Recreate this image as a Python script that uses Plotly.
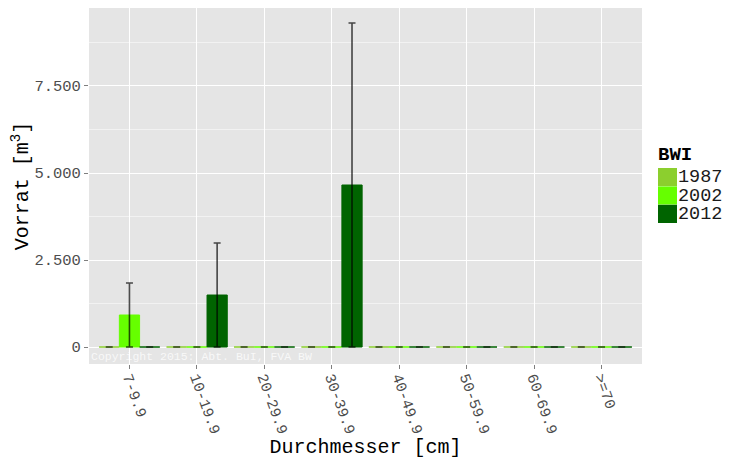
import plotly.graph_objects as go

categories = ["7-9.9", "10-19.9", "20-29.9", "30-39.9", "40-49.9", "50-59.9", "60-69.9", ">=70"]
years = ["1987", "2002", "2012"]
colors = {"1987": "#8CCF2E", "2002": "#66FF00", "2012": "#006400"}
values = {
    "1987": [0, 0, 0, 0, 0, 0, 0, 0],
    "2002": [920, 0, 0, 0, 0, 0, 0, 0],
    "2012": [0, 1494, 0, 4655, 0, 0, 0, 0],
}
errors = {
    "1987": [0, 0, 0, 0, 0, 0, 0, 0],
    "2002": [920, 0, 0, 0, 0, 0, 0, 0],
    "2012": [0, 1494, 0, 4655, 0, 0, 0, 0],
}
ytickvals = [0, 2500, 5000, 7500]
yticktext = ["0", "2.500", "5.000", "7.500"]

FONT = "Liberation Mono, Courier New, monospace"
OFF = 8  # page body margin
W, H = 732 - OFF, 459 - OFF
# panel edges in screen pixels
L, R, T, B = 89, 642, 8, 364


def px(x):
    return (x - L) / (R - L)


def py(y):
    return (B - y) / (B - T)


fig = go.Figure()
for y in years:
    fig.add_trace(go.Bar(
        x=categories, y=values[y], name=y, showlegend=False,
        marker=dict(color=colors[y], line=dict(color=colors[y], width=1)),
        error_y=dict(type="data", array=errors[y], visible=True,
                     color="rgba(0,0,0,0.7)", thickness=1.6, width=3.5),
    ))

fig.add_annotation(
    x=0, y=py(348), xref="paper", yref="paper", xanchor="left", yanchor="top",
    text="Copyright 2015: Abt. BuI, FVA BW", showarrow=False,
    font=dict(family=FONT, size=11.5, color="rgba(255,255,255,0.75)"),
)

# legend drawn manually
fig.add_annotation(
    x=px(656), y=py(155), xref="paper", yref="paper", xanchor="left", yanchor="middle",
    text="<b>BWI</b>", showarrow=False, font=dict(family=FONT, size=19, color="black"),
)
key_top = 168
key_h = 18.4
for i, yr in enumerate(years):
    y0 = key_top + i * key_h
    fig.add_shape(type="rect", xref="paper", yref="paper",
                  x0=px(658), x1=px(677), y0=py(y0), y1=py(y0 + key_h - 0.2),
                  fillcolor=colors[yr], line=dict(width=0))
    fig.add_annotation(
        x=px(677), y=py(y0 + key_h / 2 + 0.5), xref="paper", yref="paper",
        xanchor="left", yanchor="middle", text=yr, showarrow=False,
        font=dict(family=FONT, size=18.5, color="#1a1a1a"), borderpad=0,
    )

fig.update_layout(
    width=W, height=H,
    margin=dict(l=L - OFF, r=W - (R - OFF), t=T - OFF, b=H - (B - OFF)),
    paper_bgcolor="white", plot_bgcolor="#E5E5E5",
    barmode="group", bargap=0.1, bargroupgap=0,
    font=dict(family=FONT, color="#4D4D4D"),
    showlegend=False,
    xaxis=dict(
        title=dict(text="Durchmesser [cm]", font=dict(family=FONT, size=20, color="black")),
        range=[-0.6, len(categories) - 0.4],
        tickangle=70, tickfont=dict(family=FONT, size=15, color="#4D4D4D"),
        ticklabelstandoff=-6,
        showgrid=True, gridcolor="white", gridwidth=1.2,
        ticks="outside", ticklen=4, tickcolor="#7F7F7F",
        showline=False, zeroline=False, automargin=False,
    ),
    yaxis=dict(
        title=dict(text="Vorrat [m<sup>3</sup>]", font=dict(family=FONT, size=20, color="black")),
        range=[-488, 9741],
        tickvals=ytickvals, ticktext=yticktext,
        tickfont=dict(family=FONT, size=15.5, color="#4D4D4D"),
        showgrid=True, gridcolor="white", gridwidth=1.2,
        minor=dict(tickvals=[1250, 3750, 6250, 8750], showgrid=True, gridcolor="#F2F2F2", gridwidth=0.8),
        ticks="outside", ticklen=4, tickcolor="#7F7F7F",
        zeroline=False, showline=False, automargin=False,
    ),
)

fig.write_html("out.html")
